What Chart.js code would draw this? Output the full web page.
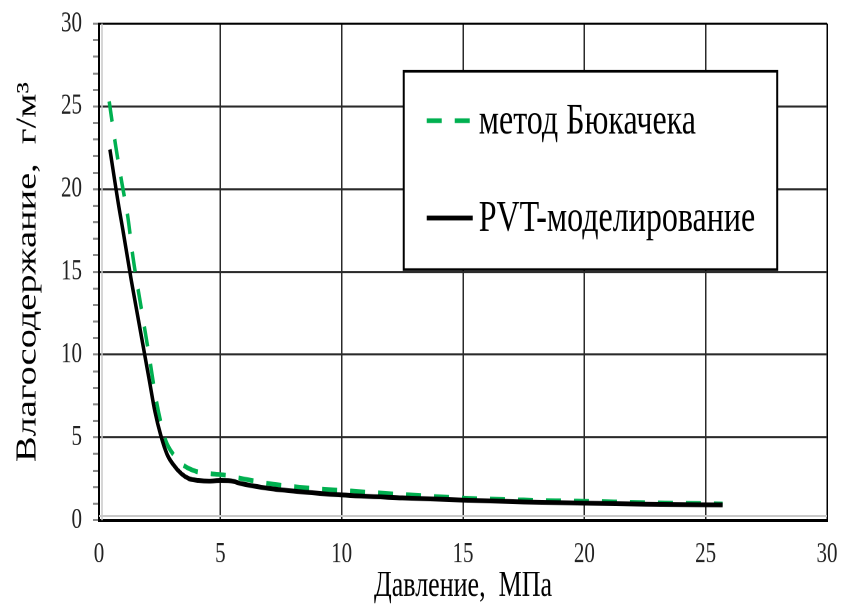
<!DOCTYPE html>
<html lang="ru">
<head>
<meta charset="utf-8">
<title>Влагосодержание газа</title>
<script src="https://cdn.jsdelivr.net/npm/chart.js@4"></script>
<style>
  html, body { margin: 0; padding: 0; background: #fff; }
  #page { width: 844px; height: 604px; overflow: hidden; }
  /* the source picture is stretched vertically, so the chart is drawn flatter and scaled */
  #wrap { width: 844px; height: 441px; transform: scaleY(1.3696); transform-origin: 0 0; }
</style>
</head>
<body>
<div id="page"><div id="wrap"><canvas id="chart" width="844" height="441"></canvas></div></div>
<script>
const pvtPressure = [0.45, 0.8, 1.0, 1.33, 1.6, 2.08, 2.3, 2.55, 2.8, 3.04, 3.4, 3.72, 4.1, 4.54, 5.0, 5.4, 5.9, 6.86, 8.0, 10, 12.5, 15, 17.5, 20, 22.5, 25.7]
const pvtWater = [22.4, 19.1, 17.4, 14.5, 12.3, 8.4, 6.6, 5.1, 4.0, 3.4, 2.8, 2.5, 2.4, 2.36, 2.4, 2.38, 2.2, 1.95, 1.76, 1.52, 1.35, 1.21, 1.1, 1.03, 0.97, 0.92]

const bukPressure = [0.42, 0.7, 0.94, 1.19, 1.4, 1.8, 2.08, 2.34, 2.55, 2.75, 3.1, 3.45, 4.0, 4.54, 5.2, 5.77, 6.86, 7.8, 9.2, 10.4, 12.5, 15.1, 17.5, 19.7, 22.9, 25.7]
const bukWater = [25.3, 22.5, 20.4, 18.3, 15.9, 12.3, 9.8, 7.4, 5.9, 4.8, 3.9, 3.35, 2.95, 2.82, 2.72, 2.55, 2.25, 2.06, 1.88, 1.76, 1.55, 1.33, 1.22, 1.15, 1.05, 0.98]

const seriesLabels = ["PVT-моделирование", "метод Бюкачека"]
const xTitle = "Давление,  МПа"
const yTitle = "Влагосодержание,  г/м³"

const FONT = '"Liberation Serif", "Times New Roman", serif'

const toPoints = (xs, ys) => xs.map((x, i) => ({ x: x, y: ys[i] }))

// grey inner frame lines and the boxed legend inside the plot
const frameAndLegend = {
  id: 'frameAndLegend',
  beforeDatasetsDraw(chart) {
    const { ctx, chartArea: a } = chart
    ctx.save()
    ctx.strokeStyle = '#c8c8c8'
    ctx.lineWidth = 1.5
    ctx.beginPath()
    ctx.moveTo(a.left + 3, a.top)
    ctx.lineTo(a.left + 3, a.bottom)
    ctx.moveTo(a.left, a.bottom - 3)
    ctx.lineTo(a.right, a.bottom - 3)
    ctx.stroke()
    ctx.restore()
  },
  afterDraw(chart) {
    const { ctx, chartArea: a } = chart
    const w = a.right - a.left
    const h = a.bottom - a.top
    const x0 = a.left + w * 0.4186
    const x1 = a.left + w * 0.9316
    const y0 = a.top + h * 0.0956
    const y1 = a.top + h * 0.4953

    ctx.save()
    ctx.fillStyle = '#fff'
    ctx.fillRect(x0, y0, x1 - x0, y1 - y0)
    ctx.strokeStyle = '#000'
    ctx.lineWidth = 2
    ctx.strokeRect(x0, y0, x1 - x0, y1 - y0)

    const rows = [1, 0]
    rows.forEach((idx, r) => {
      const ds = chart.data.datasets[idx]
      const y = y0 + (y1 - y0) * (r === 0 ? 0.25 : 0.74)
      ctx.beginPath()
      ctx.strokeStyle = ds.borderColor
      ctx.lineWidth = ds.borderWidth
      ctx.setLineDash(ds.borderDash || [])
      ctx.moveTo(x0 + 23, y)
      ctx.lineTo(x0 + 69, y)
      ctx.stroke()
      ctx.setLineDash([])
      ctx.fillStyle = '#000'
      ctx.font = '32px ' + FONT
      ctx.textBaseline = 'middle'
      ctx.fillText(ds.label, x0 + 75, y + 1)
    })
    ctx.restore()
  }
}

new Chart(document.getElementById('chart'), {
  type: 'line',
  data: {
    datasets: [
      {
        label: seriesLabels[0],
        data: toPoints(pvtPressure, pvtWater),
        borderColor: '#000',
        borderWidth: 3.5,
        pointRadius: 0,
        cubicInterpolationMode: 'monotone'
      },
      {
        label: seriesLabels[1],
        data: toPoints(bukPressure, bukWater),
        borderColor: '#00b050',
        borderWidth: 3.5,
        borderDash: [15, 13],
        pointRadius: 0,
        cubicInterpolationMode: 'monotone'
      }
    ]
  },
  options: {
    responsive: false,
    animation: false,
    devicePixelRatio: 2,
    layout: { padding: { top: 0, right: 0, bottom: 0, left: 0 } },
    plugins: {
      legend: { display: false },
      tooltip: { enabled: false }
    },
    scales: {
      x: {
        type: 'linear',
        min: 0,
        max: 30,
        ticks: {
          stepSize: 5,
          padding: 6.5,
          color: '#222',
          font: { family: FONT, size: 21, lineHeight: 1 }
        },
        grid: {
          drawTicks: true,
          tickLength: 8.2,
          tickColor: 'transparent',
          lineWidth: 1.5,
          color: ctx => ctx.tick && ctx.tick.value === 30 ? '#000' : '#2a2a2a'
        },
        border: { color: '#000', width: 2 },
        title: {
          display: true,
          text: xTitle,
          color: '#000',
          padding: { top: -7, bottom: 0 },
          font: { family: FONT, size: 26, lineHeight: 1 }
        }
      },
      y: {
        min: 0,
        max: 30,
        ticks: {
          stepSize: 1,
          autoSkip: false,
          padding: 11,
          color: '#222',
          font: { family: FONT, size: 21, lineHeight: 0.6 },
          callback: v => v % 5 === 0 ? v : ''
        },
        grid: {
          lineWidth: 1.5,
          tickLength: 6,
          color: ctx => {
            if (!ctx.tick) return 'transparent'
            if (ctx.tick.value === 30) return '#000'
            return ctx.tick.value % 5 === 0 ? '#2a2a2a' : 'transparent'
          },
          tickColor: '#8a8a8a'
        },
        border: { color: '#000', width: 2 },
        title: {
          display: true,
          text: yTitle,
          color: '#000',
          padding: { top: 14, bottom: 8 },
          font: { family: FONT, size: 28, lineHeight: 1 }
        }
      }
    }
  },
  plugins: [frameAndLegend]
})
</script>
</body>
</html>
